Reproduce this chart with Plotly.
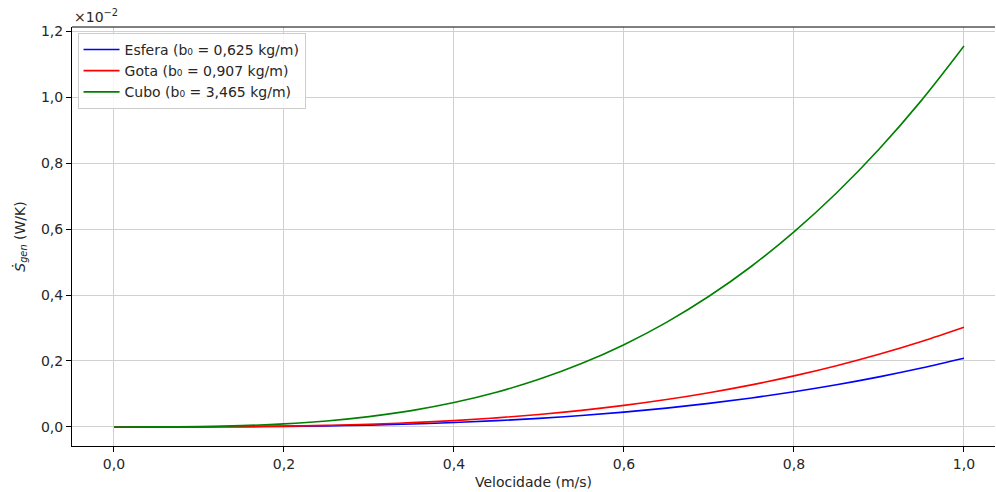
import plotly.graph_objects as go

# Velocity (m/s)
velocidade = [0.00, 0.05, 0.10, 0.15, 0.20, 0.25, 0.30, 0.35, 0.40, 0.45, 0.50,
              0.55, 0.60, 0.65, 0.70, 0.75, 0.80, 0.85, 0.90, 0.95, 1.00]

# Entropy generation rate, in units of 1e-2 W/K
esfera = [0.0, 0.00003, 0.0002, 0.0007, 0.0017, 0.0033, 0.0056, 0.0089, 0.0133, 0.0190, 0.0260,
          0.0347, 0.0450, 0.0572, 0.0715, 0.0879, 0.1067, 0.1279, 0.1519, 0.1786, 0.2083]
gota = [0.0, 0.00004, 0.0003, 0.0010, 0.0024, 0.0047, 0.0082, 0.0130, 0.0193, 0.0275, 0.0378,
        0.0503, 0.0653, 0.0830, 0.1037, 0.1275, 0.1548, 0.1857, 0.2204, 0.2592, 0.3023]
cubo = [0.0, 0.00014, 0.0012, 0.0039, 0.0092, 0.0180, 0.0312, 0.0495, 0.0739, 0.1052, 0.1444,
        0.1922, 0.2495, 0.3172, 0.3962, 0.4873, 0.5914, 0.7093, 0.8420, 0.9903, 1.1550]

series_names = ["Esfera (b₀ = 0,625 kg/m)", "Gota (b₀ = 0,907 kg/m)", "Cubo (b₀ = 3,465 kg/m)"]
series_colors = ["#0000ff", "#ff0000", "#008000"]

x_ticks = [0.0, 0.2, 0.4, 0.6, 0.8, 1.0]
y_ticks = [0.0, 0.2, 0.4, 0.6, 0.8, 1.0, 1.2]

fig = go.Figure()
for name, ys, col in zip(series_names, [esfera, gota, cubo], series_colors):
    fig.add_trace(go.Scatter(x=velocidade, y=ys, mode="lines", name=name,
                             line=dict(color=col, width=1.6, shape="spline")))

font = "DejaVu Sans, sans-serif"
txt = "#262626"
axis_common = dict(showgrid=True, gridcolor="#d0d0d0", gridwidth=1, zeroline=False,
                   showline=True, linecolor="#000000", linewidth=1,
                   ticks="outside", ticklen=5, tickcolor="#000000", tickwidth=1,
                   tickfont=dict(family=font, size=14, color=txt),
                   tickformat=".1f")

fig.update_layout(
    width=996, height=492,
    separators=", ",
    plot_bgcolor="white", paper_bgcolor="white",
    margin=dict(l=72, r=1, t=27, b=46, autoexpand=False),
    font=dict(family=font, size=14, color=txt),
    xaxis=dict(axis_common, range=[-0.0494, 1.0365], tickvals=x_ticks,
               title=dict(text="Velocidade (m/s)", standoff=6,
                          font=dict(family=font, size=14, color=txt))),
    yaxis=dict(axis_common, range=[-0.0578, 1.2128], tickvals=y_ticks,
               title=dict(text="<i>Ṡ</i><sub><i>gen</i></sub> (W/K)", standoff=12,
                          font=dict(family=font, size=14, color=txt))),
    legend=dict(x=0.006, y=0.986, xanchor="left", yanchor="top",
                bgcolor="rgba(255,255,255,0.85)", bordercolor="#cccccc", borderwidth=1,
                font=dict(family=font, size=14, color=txt),
                itemwidth=36, tracegroupgap=0),
    showlegend=True,
)

# top spine
fig.add_shape(type="line", xref="paper", yref="paper", x0=0, x1=1, y0=1, y1=1,
              line=dict(color="#000000", width=1))

# offset text
fig.add_annotation(xref="paper", yref="paper", x=0, y=1, xanchor="left", yanchor="bottom",
                   text="×10<sup>−2</sup>", showarrow=False, yshift=0,
                   font=dict(family=font, size=14, color=txt))

fig.write_html("out.html", config={"displayModeBar": False},
               post_script="document.body.style.margin='0';")
